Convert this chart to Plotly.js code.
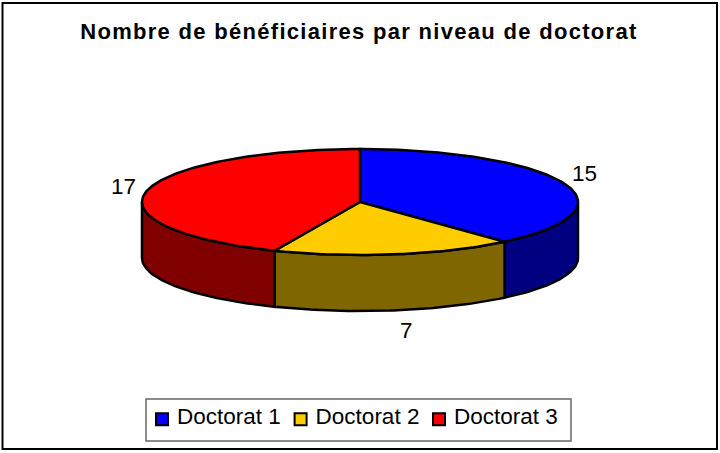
<!DOCTYPE html>
<html>
<head>
<meta charset="utf-8">
<script src="https://cdn.plot.ly/plotly-3.0.1.min.js"></script>
<style>
html,body{margin:0;padding:0;background:#fff}
.gtitle{letter-spacing:1.3px}
.legendsymbols{transform:translate(5px,4px)}
</style>
</head>
<body>
<div id="chart" style="width:720px;height:453px"></div>
<script>
const categories = ["Doctorat 1", "Doctorat 2", "Doctorat 3"];
const values = [15, 7, 17];
const topColors = ["#0000FF", "#FFCC00", "#FF0000"];
const sideColors = ["#000080", "#806600", "#800000"];
const titleText = "Nombre de bénéficiaires par niveau de doctorat";

// Pie geometry in axis units (axes span the page)
const cx = 360, cy = 202, rx = 218, ry = 53, depth = 56;
const labelFont = {family: "Liberation Sans, Arial, sans-serif", size: 22.5, color: "#000"};
const labelOffsets = [[224, -29], [46, 128], [-237, -16]];
const legendLefts = [137, 275.6, 414];

const total = values.reduce((a, b) => a + b, 0);
const rim = (deg, drop) => {
  const t = deg * Math.PI / 180;
  return [cx + rx * Math.sin(t), cy - ry * Math.cos(t) + drop];
};
const arc = (a, b, drop) => {
  const pts = [], n = Math.max(2, Math.ceil(Math.abs(b - a)));
  for (let i = 0; i <= n; i++) pts.push(rim(a + (b - a) * i / n, drop));
  return pts;
};
const polyTrace = (pts, fill) => ({
  type: "scatter", mode: "lines",
  x: pts.map(p => p[0]), y: pts.map(p => p[1]),
  fill: "toself", fillcolor: fill,
  line: {color: "#000", width: 2.5, shape: "linear"},
  showlegend: false, hoverinfo: "skip"
});

let cum = 0;
const slices = values.map(v => {
  const a = cum / total * 360; cum += v;
  return [a, cum / total * 360];
});

const legendKey = i => (i === 0 ? "legend" : "legend" + (i + 1));

const legendTraces = categories.map((c, i) => ({
  type: "scatter", mode: "markers", name: c, legend: legendKey(i),
  x: [cx], y: [cy],
  marker: {symbol: "square", size: 12, color: topColors[i], line: {color: "#000", width: 2}},
  hoverinfo: "skip"
}));

// Side walls only on the front half of the disc
const sideTraces = [];
slices.forEach((s, i) => {
  const a = Math.max(s[0], 90), b = Math.min(s[1], 270);
  if (b > a) {
    const pts = arc(a, b, 0).concat(arc(b, a, depth));
    pts.push(pts[0]);
    sideTraces.push(polyTrace(pts, sideColors[i]));
  }
});

const topTraces = slices.map((s, i) => {
  const pts = [[cx, cy]].concat(arc(s[0], s[1], 0));
  pts.push([cx, cy]);
  return polyTrace(pts, topColors[i]);
});

const annotations = values.map((v, i) => ({
  xref: "x", yref: "y",
  x: cx + labelOffsets[i][0],
  y: cy + labelOffsets[i][1],
  text: String(v), showarrow: false, font: labelFont, xanchor: "center", yanchor: "middle"
}));

const layout = {
  width: 720, height: 453, autosize: false,
  margin: {l: 0, r: 0, t: 0, b: 0},
  paper_bgcolor: "#fff", plot_bgcolor: "#fff",
  title: {text: titleText, x: 0.4985, xanchor: "center", y: 0.931, yanchor: "middle",
          font: {family: "Liberation Sans, Arial, sans-serif", size: 22, weight: 700, color: "#000"}},
  xaxis: {range: [0, 720], visible: false, fixedrange: true},
  yaxis: {range: [453, 0], visible: false, fixedrange: true},
  showlegend: true,
  shapes: [
    {type: "rect", xref: "paper", yref: "paper", x0: 2.5 / 720, x1: 717 / 720, y0: 1 - 449 / 453, y1: 1 - 3 / 453,
     line: {color: "#000", width: 2}, fillcolor: "rgba(0,0,0,0)", layer: "below"},
    {type: "rect", xref: "paper", yref: "paper", x0: 146 / 720, x1: 571 / 720, y0: 1 - 441 / 453, y1: 1 - 399 / 453,
     line: {color: "#666", width: 1.5}, fillcolor: "#fff", layer: "below"}
  ],
  annotations
};

categories.forEach((c, i) => {
  layout[legendKey(i)] = {
    x: legendLefts[i] / 720, y: 1 - 394 / 453, xanchor: "left", yanchor: "top",
    bgcolor: "rgba(0,0,0,0)", borderwidth: 0,
    font: {family: "Liberation Sans, Arial, sans-serif", size: 22.5, color: "#000"},
    itemwidth: 30
  };
});

Plotly.newPlot("chart", legendTraces.concat(sideTraces, topTraces), layout, {displayModeBar: false, staticPlot: true});
</script>
</body>
</html>
